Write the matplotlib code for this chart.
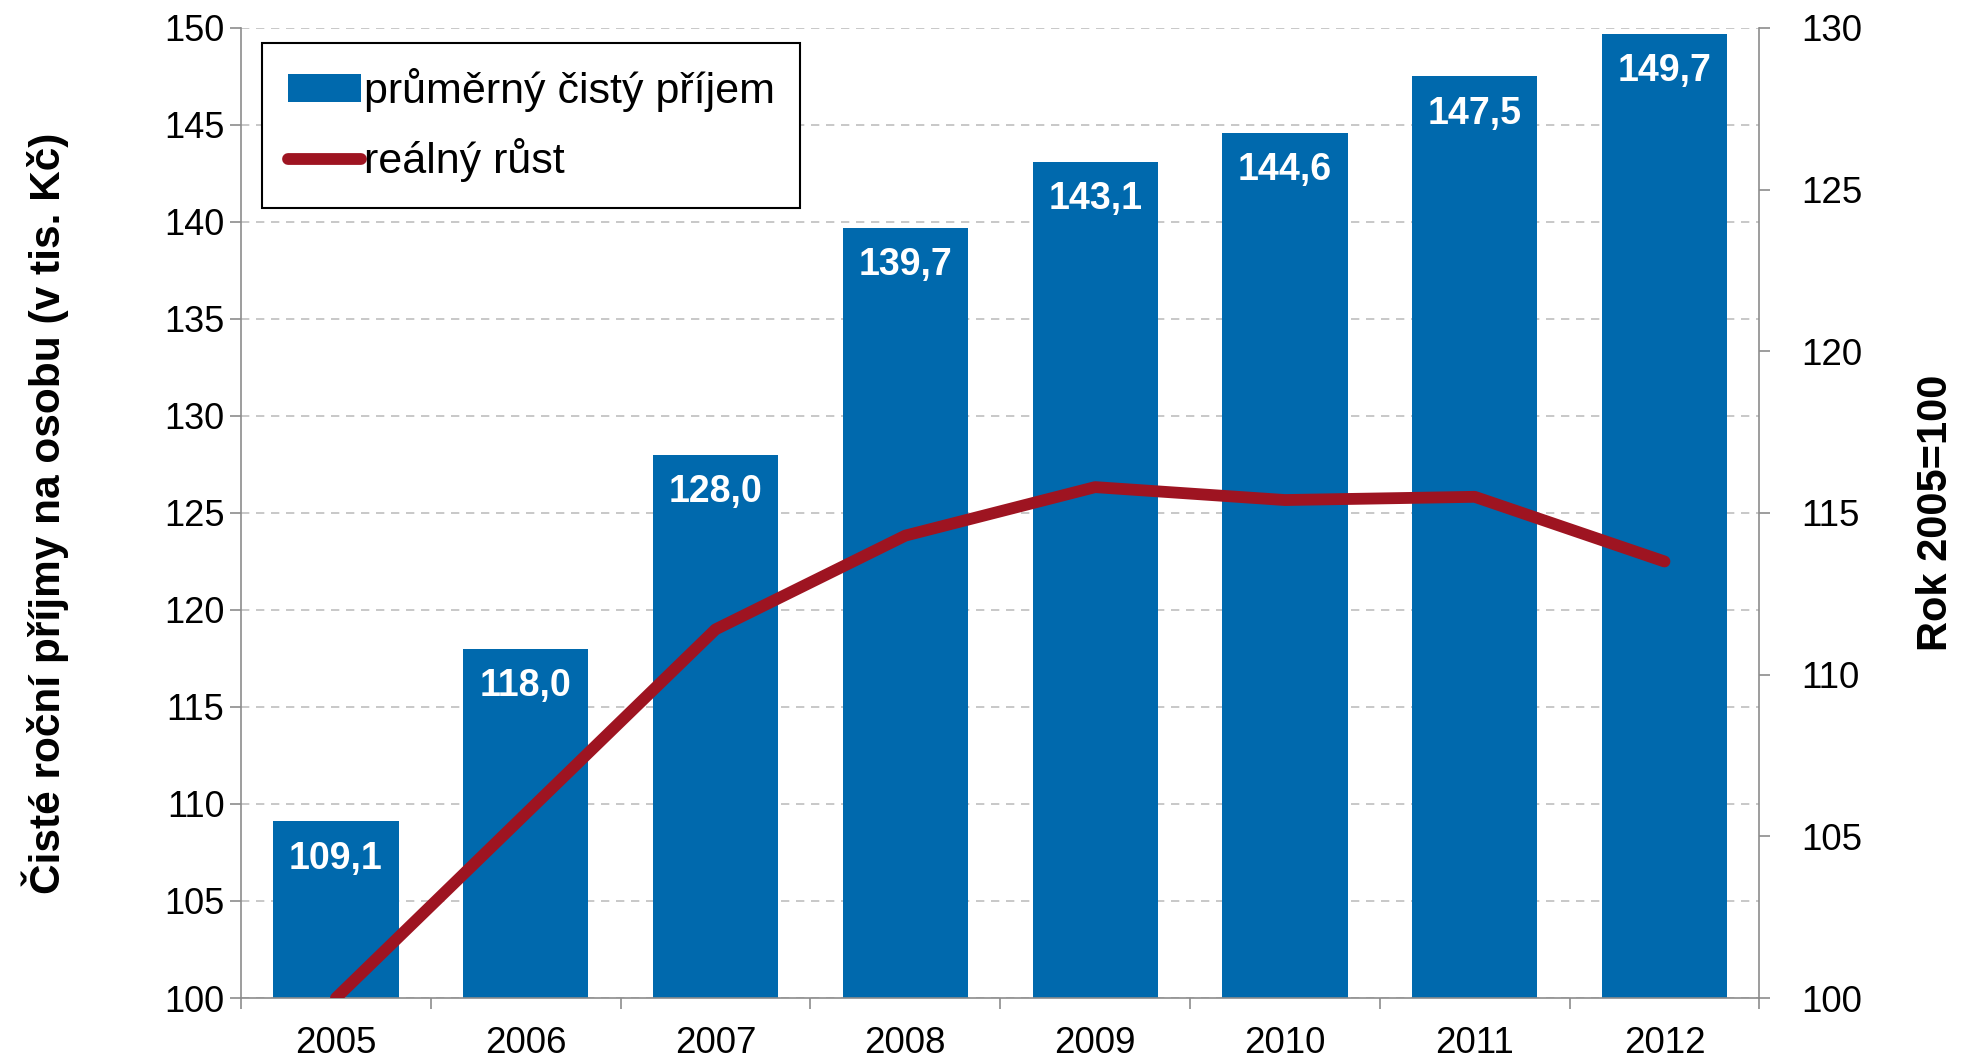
import numpy as np
import matplotlib.pyplot as plt
from matplotlib.patches import Patch
from matplotlib.lines import Line2D

plt.rcParams['font.family'] = ['Liberation Sans', 'DejaVu Sans']

# data
roky = ['2005', '2006', '2007', '2008', '2009', '2010', '2011', '2012']
prijem = [109.1, 118.0, 128.0, 139.7, 143.1, 144.6, 147.5, 149.7]
realny_rust = [100.0, 105.7, 111.4, 114.3, 115.8, 115.4, 115.5, 113.5]

modra = '#0069AD'
cervena = '#9E1421'
seda = '#8C8C8C'

fig = plt.figure(figsize=(19.68, 10.59), dpi=100)
ax = fig.add_axes([0.1225, 0.0576, 0.7715, 0.916])
x = np.arange(len(roky))

ax.bar(x, prijem, width=0.66, color=modra, zorder=2)
for xi, v in zip(x, prijem):
    ax.annotate(f'{v:.1f}'.replace('.', ','), (xi, v), xytext=(0, -27),
                textcoords='offset points', ha='center', va='center',
                color='white', fontsize=27, fontweight='bold', zorder=3)

ax.set_ylim(100, 150)
ax.set_yticks(np.arange(100, 151, 5))
ax.set_xlim(-0.5, len(roky) - 0.5)
ax.set_xticks(x)
ax.set_xticklabels(roky)
ax.set_xticks(np.arange(-0.5, len(roky)), minor=True)
ax.tick_params(axis='x', which='major', length=0, pad=20, labelsize=26.5)
ax.tick_params(axis='x', which='minor', length=8, color=seda, width=1.2)
ax.tick_params(axis='y', length=8, color=seda, width=1.2, labelsize=26, pad=4)
ax.set_axisbelow(True)
ax.grid(axis='y', linestyle=(0, (5, 4)), color='#BFBFBF', linewidth=1.2)
for s in ['top', 'right']:
    ax.spines[s].set_visible(False)
for s in ['left', 'bottom']:
    ax.spines[s].set_color(seda)
    ax.spines[s].set_linewidth(1.2)
ax.set_ylabel('Čisté roční příjmy na osobu (v tis. Kč)', fontsize=30.5,
              fontweight='bold', labelpad=68)

ax2 = ax.twinx()
ax2.plot(x, realny_rust, color=cervena, linewidth=8.5, solid_capstyle='round',
         solid_joinstyle='round', zorder=4)
ax2.set_ylim(100, 130)
ax2.set_yticks(np.arange(100, 131, 5))
ax2.tick_params(axis='y', length=8, color=seda, width=1.2, labelsize=26.5, pad=22)
for s in ['top', 'left', 'bottom']:
    ax2.spines[s].set_visible(False)
ax2.spines['right'].set_color(seda)
ax2.spines['right'].set_linewidth(1.2)
ax2.set_ylabel('Rok 2005=100', fontsize=30, fontweight='bold', labelpad=39)

handles = [Patch(facecolor=modra, edgecolor='none'),
           Line2D([0], [0], color=cervena, linewidth=8.5, solid_capstyle='round')]
leg = ax2.legend(handles, ['průměrný čistý příjem', 'reálný růst'],
                 loc='upper left', bbox_to_anchor=(0.014, 0.985),
                 fontsize=31, frameon=True, fancybox=False, framealpha=1,
                 edgecolor='black', handlelength=1.7, handleheight=0.6,
                 handletextpad=0.05, labelspacing=0.6, borderpad=0.6,
                 borderaxespad=0)
leg.get_frame().set_linewidth(1.5)

fig.savefig('out.png', dpi=100)
